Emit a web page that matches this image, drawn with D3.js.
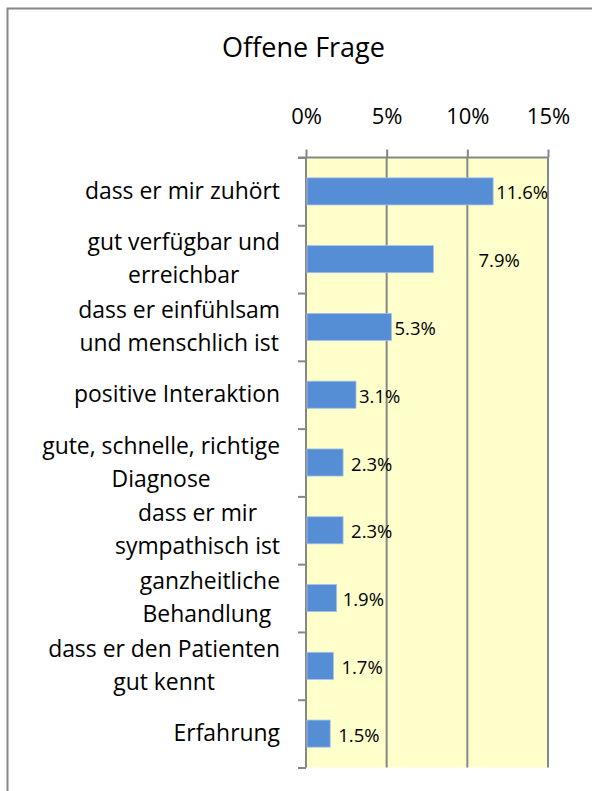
<!DOCTYPE html>
<html>
<head>
<meta charset="utf-8">
<script src="https://cdn.jsdelivr.net/npm/d3@7"></script>
<style>
  body { margin: 0; background: #fff; }
  svg { display: block; font-family: "Open Sans", sans-serif; }
</style>
</head>
<body>
<div id="chart"></div>
<script>
// Chart data, top bar first
const categories = [
  'dass er mir zuhört',
  'gut verfügbar und\nerreichbar',
  'dass er einfühlsam\nund menschlich ist',
  'positive Interaktion',
  'gute, schnelle, richtige\nDiagnose',
  'dass er mir\nsympathisch ist',
  'ganzheitliche\nBehandlung ',
  'dass er den Patienten\ngut kennt',
  'Erfahrung'
];
const values = [11.6, 7.9, 5.3, 3.1, 2.3, 2.3, 1.9, 1.7, 1.5];
const valueLabels = ['11.6%', '7.9%', '5.3%', '3.1%', '2.3%', '2.3%', '1.9%', '1.7%', '1.5%'];
const xTicks = [0, 5, 10, 15];
const title = 'Offene Frage';

// Label nudges (px) to the right of each bar end, as placed in the original
const labelNudge = [3, 45, 3, 3, 8, 8, 6, 8, 8];

const W = 592, H = 791;
const plot = { left: 306, right: 548, top: 157.5, bottom: 767.5 };
const GRAY = '#878787';
const BAR = '#558ed5';
const FILL = '#ffffcc';

const svg = d3.select('#chart').append('svg')
  .attr('width', W)
  .attr('height', H);

// Outer chart border (runs off the right and bottom edges)
svg.append('rect')
  .attr('x', 7.5).attr('y', 8.5)
  .attr('width', W + 20).attr('height', H + 20)
  .attr('fill', '#fff')
  .attr('stroke', GRAY)
  .attr('stroke-width', 2);

// Title
svg.append('text')
  .attr('x', 303.5).attr('y', 57)
  .attr('text-anchor', 'middle')
  .attr('font-size', 27)
  .attr('fill', '#000')
  .text(title);

const x = d3.scaleLinear().domain([0, 15]).range([plot.left, plot.right]);
const y = d3.scaleBand()
  .domain(d3.range(categories.length))
  .range([plot.top, plot.bottom])
  .paddingInner(0.6)
  .paddingOuter(0.3);
const step = y.step();

// Plot area background
svg.append('rect')
  .attr('x', plot.left).attr('y', plot.top)
  .attr('width', plot.right - plot.left)
  .attr('height', plot.bottom - plot.top)
  .attr('fill', FILL);

// Vertical gridlines
svg.append('g')
  .selectAll('line')
  .data(xTicks.filter(d => d > 0))
  .enter()
  .append('line')
  .attr('x1', d => x(d)).attr('x2', d => x(d))
  .attr('y1', plot.top).attr('y2', plot.bottom)
  .attr('stroke', GRAY)
  .attr('stroke-width', 2);

// Top axis with percentage labels
const xAxis = d3.axisTop(x)
  .tickValues(xTicks)
  .tickSize(8)
  .tickPadding(26)
  .tickFormat(d => d + '%');
const gx = svg.append('g')
  .attr('transform', `translate(0,${plot.top})`)
  .call(xAxis);
gx.select('.domain').attr('d', `M${plot.left - 8},0H${plot.right}`)
  .attr('stroke', GRAY).attr('stroke-width', 2);
gx.selectAll('.tick line').attr('stroke', GRAY).attr('stroke-width', 2);
gx.selectAll('.tick text')
  .attr('font-family', '"Open Sans", sans-serif')
  .attr('font-size', 22)
  .attr('fill', '#000');

// Left axis: ticks at category boundaries
const yEdge = d3.scaleLinear().domain([0, categories.length]).range([plot.top, plot.bottom]);
const yAxis = d3.axisLeft(yEdge)
  .tickValues(d3.range(categories.length + 1))
  .tickSize(8)
  .tickFormat('');
const gy = svg.append('g')
  .attr('transform', `translate(${plot.left},0)`)
  .call(yAxis);
gy.select('.domain').attr('d', `M0,${plot.top}V${plot.bottom}`)
  .attr('stroke', GRAY).attr('stroke-width', 2);
gy.selectAll('.tick line').attr('stroke', GRAY).attr('stroke-width', 2);

// Bars
svg.append('g')
  .selectAll('rect')
  .data(values)
  .enter()
  .append('rect')
  .attr('x', x(0) + 1)
  .attr('y', (d, i) => y(i))
  .attr('width', d => x(d) - x(0) - 1)
  .attr('height', y.bandwidth())
  .attr('fill', BAR)
  .attr('stroke', '#a9c3e8')
  .attr('stroke-width', 0.8);

// Value labels
svg.append('g')
  .selectAll('text')
  .data(values)
  .enter()
  .append('text')
  .attr('x', (d, i) => x(d) + labelNudge[i])
  .attr('y', (d, i) => y(i) + y.bandwidth() / 2 + 8)
  .attr('font-size', 18.5)
  .attr('fill', '#000')
  .text((d, i) => valueLabels[i]);

// Category labels: block right-aligned to x=280, lines centred within the block
const lineH = 33;
const labelRight = 280;
const catG = svg.append('g');
categories.forEach((c, i) => {
  const lines = c.split('\n');
  const cy = plot.top + step * (i + 0.5);
  const t = catG.append('text')
    .attr('font-size', 22.9)
    .attr('fill', '#000')
    .attr('text-anchor', 'middle')
    .style('white-space', 'pre');
  const spans = lines.map((ln, k) =>
    t.append('tspan')
      .attr('y', cy + (k - (lines.length - 1) / 2) * lineH + 7.5)
      .text(ln)
  );
  const maxW = d3.max(spans, s => s.node().getComputedTextLength());
  spans.forEach(s => s.attr('x', labelRight - maxW / 2));
});
</script>
</body>
</html>
